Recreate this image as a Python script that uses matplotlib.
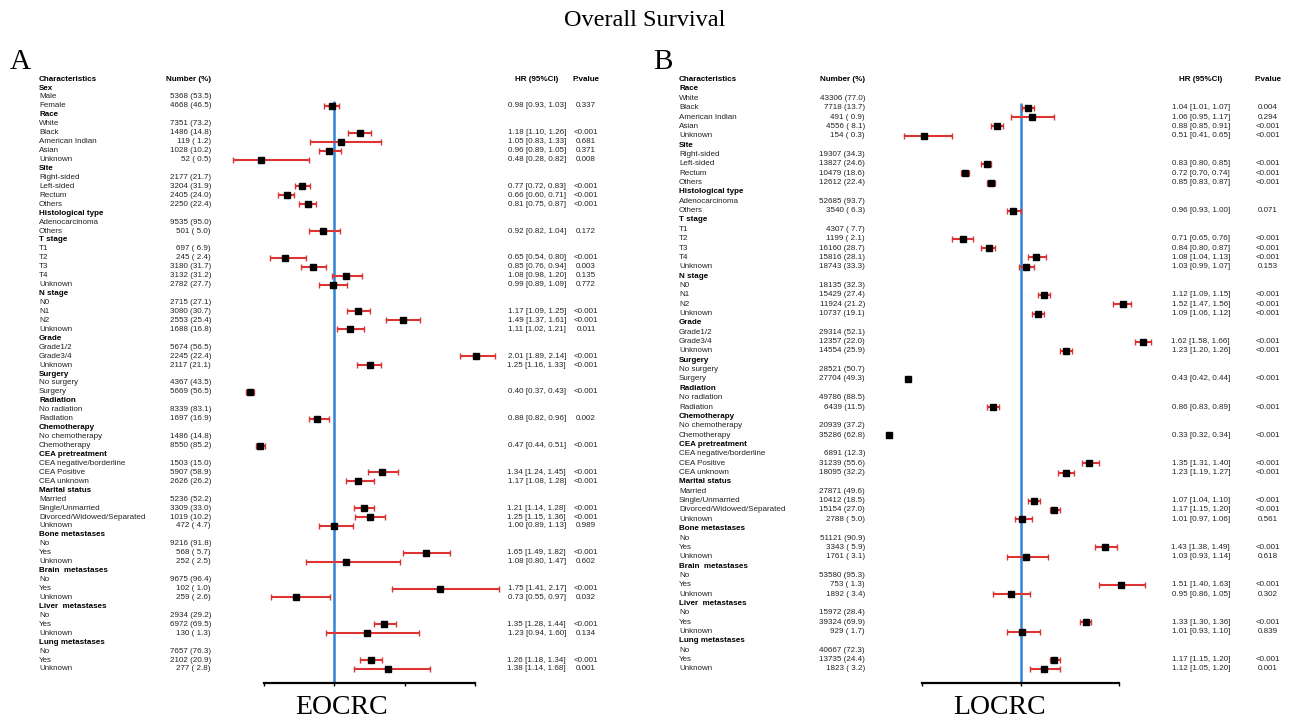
import matplotlib
matplotlib.use("Agg")
import matplotlib.pyplot as plt
from matplotlib.transforms import blended_transform_factory

plt.rcParams['font.family'] = ['Liberation Sans', 'DejaVu Sans']

# ── Panel A : EOCRC ─────────────────────────────────────────────────────────
A_LABELS = [
    "Sex", "Male", "Female",
    "Race", "White", "Black", "American Indian", "Asian", "Unknown",
    "Site", "Right-sided", "Left-sided", "Rectum", "Others",
    "Histological type", "Adenocarcinoma", "Others",
    "T stage", "T1", "T2", "T3", "T4", "Unknown",
    "N stage", "N0", "N1", "N2", "Unknown",
    "Grade", "Grade1/2", "Grade3/4", "Unknown",
    "Surgery", "No surgery", "Surgery",
    "Radiation", "No radiation", "Radiation",
    "Chemotherapy", "No chemotherapy", "Chemotherapy",
    "CEA pretreatment", "CEA negative/borderline", "CEA Positive", "CEA unknown",
    "Marital status", "Married", "Single/Unmarried", "Divorced/Widowed/Separated", "Unknown",
    "Bone metastases", "No", "Yes", "Unknown",
    "Brain  metastases", "No", "Yes", "Unknown",
    "Liver  metastases", "No", "Yes", "Unknown",
    "Lung metastases", "No", "Yes", "Unknown",
]
A_NUMBERS = [
    "", "5368 (53.5)", "4668 (46.5)",
    "", "7351 (73.2)", "1486 (14.8)", "119 ( 1.2)", "1028 (10.2)", "52 ( 0.5)",
    "", "2177 (21.7)", "3204 (31.9)", "2405 (24.0)", "2250 (22.4)",
    "", "9535 (95.0)", "501 ( 5.0)",
    "", "697 ( 6.9)", "245 ( 2.4)", "3180 (31.7)", "3132 (31.2)", "2782 (27.7)",
    "", "2715 (27.1)", "3080 (30.7)", "2553 (25.4)", "1688 (16.8)",
    "", "5674 (56.5)", "2245 (22.4)", "2117 (21.1)",
    "", "4367 (43.5)", "5669 (56.5)",
    "", "8339 (83.1)", "1697 (16.9)",
    "", "1486 (14.8)", "8550 (85.2)",
    "", "1503 (15.0)", "5907 (58.9)", "2626 (26.2)",
    "", "5236 (52.2)", "3309 (33.0)", "1019 (10.2)", "472 ( 4.7)",
    "", "9216 (91.8)", "568 ( 5.7)", "252 ( 2.5)",
    "", "9675 (96.4)", "102 ( 1.0)", "259 ( 2.6)",
    "", "2934 (29.2)", "6972 (69.5)", "130 ( 1.3)",
    "", "7657 (76.3)", "2102 (20.9)", "277 ( 2.8)",
]
A_HR = [
    None, None, 0.98,
    None, None, 1.18, 1.05, 0.96, 0.48,
    None, None, 0.77, 0.66, 0.81,
    None, None, 0.92,
    None, None, 0.65, 0.85, 1.08, 0.99,
    None, None, 1.17, 1.49, 1.11,
    None, None, 2.01, 1.25,
    None, None, 0.40,
    None, None, 0.88,
    None, None, 0.47,
    None, None, 1.34, 1.17,
    None, None, 1.21, 1.25, 1.00,
    None, None, 1.65, 1.08,
    None, None, 1.75, 0.73,
    None, None, 1.35, 1.23,
    None, None, 1.26, 1.38,
]
A_LO = [
    None, None, 0.93,
    None, None, 1.10, 0.83, 0.89, 0.28,
    None, None, 0.72, 0.60, 0.75,
    None, None, 0.82,
    None, None, 0.54, 0.76, 0.98, 0.89,
    None, None, 1.09, 1.37, 1.02,
    None, None, 1.89, 1.16,
    None, None, 0.37,
    None, None, 0.82,
    None, None, 0.44,
    None, None, 1.24, 1.08,
    None, None, 1.14, 1.15, 0.89,
    None, None, 1.49, 0.80,
    None, None, 1.41, 0.55,
    None, None, 1.28, 0.94,
    None, None, 1.18, 1.14,
]
A_HI = [
    None, None, 1.03,
    None, None, 1.26, 1.33, 1.05, 0.82,
    None, None, 0.83, 0.71, 0.87,
    None, None, 1.04,
    None, None, 0.80, 0.94, 1.20, 1.09,
    None, None, 1.25, 1.61, 1.21,
    None, None, 2.14, 1.33,
    None, None, 0.43,
    None, None, 0.96,
    None, None, 0.51,
    None, None, 1.45, 1.28,
    None, None, 1.28, 1.36, 1.13,
    None, None, 1.82, 1.47,
    None, None, 2.17, 0.97,
    None, None, 1.44, 1.60,
    None, None, 1.34, 1.68,
]
A_P = [
    "", "", "0.337",
    "", "", "<0.001", "0.681", "0.371", "0.008",
    "", "", "<0.001", "<0.001", "<0.001",
    "", "", "0.172",
    "", "", "<0.001", "0.003", "0.135", "0.772",
    "", "", "<0.001", "<0.001", "0.011",
    "", "", "<0.001", "<0.001",
    "", "", "<0.001",
    "", "", "0.002",
    "", "", "<0.001",
    "", "", "<0.001", "<0.001",
    "", "", "<0.001", "<0.001", "0.989",
    "", "", "<0.001", "0.602",
    "", "", "<0.001", "0.032",
    "", "", "<0.001", "0.134",
    "", "", "<0.001", "0.001",
]

# ── Panel B : LOCRC ─────────────────────────────────────────────────────────
B_LABELS = [
    "Race", "White", "Black", "American Indian", "Asian", "Unknown",
    "Site", "Right-sided", "Left-sided", "Rectum", "Others",
    "Histological type", "Adenocarcinoma", "Others",
    "T stage", "T1", "T2", "T3", "T4", "Unknown",
    "N stage", "N0", "N1", "N2", "Unknown",
    "Grade", "Grade1/2", "Grade3/4", "Unknown",
    "Surgery", "No surgery", "Surgery",
    "Radiation", "No radiation", "Radiation",
    "Chemotherapy", "No chemotherapy", "Chemotherapy",
    "CEA pretreatment", "CEA negative/borderline", "CEA Positive", "CEA unknown",
    "Marital status", "Married", "Single/Unmarried", "Divorced/Widowed/Separated", "Unknown",
    "Bone metastases", "No", "Yes", "Unknown",
    "Brain  metastases", "No", "Yes", "Unknown",
    "Liver  metastases", "No", "Yes", "Unknown",
    "Lung metastases", "No", "Yes", "Unknown",
]
B_NUMBERS = [
    "", "43306 (77.0)", "7718 (13.7)", "491 ( 0.9)", "4556 ( 8.1)", "154 ( 0.3)",
    "", "19307 (34.3)", "13827 (24.6)", "10479 (18.6)", "12612 (22.4)",
    "", "52685 (93.7)", "3540 ( 6.3)",
    "", "4307 ( 7.7)", "1199 ( 2.1)", "16160 (28.7)", "15816 (28.1)", "18743 (33.3)",
    "", "18135 (32.3)", "15429 (27.4)", "11924 (21.2)", "10737 (19.1)",
    "", "29314 (52.1)", "12357 (22.0)", "14554 (25.9)",
    "", "28521 (50.7)", "27704 (49.3)",
    "", "49786 (88.5)", "6439 (11.5)",
    "", "20939 (37.2)", "35286 (62.8)",
    "", "6891 (12.3)", "31239 (55.6)", "18095 (32.2)",
    "", "27871 (49.6)", "10412 (18.5)", "15154 (27.0)", "2788 ( 5.0)",
    "", "51121 (90.9)", "3343 ( 5.9)", "1761 ( 3.1)",
    "", "53580 (95.3)", "753 ( 1.3)", "1892 ( 3.4)",
    "", "15972 (28.4)", "39324 (69.9)", "929 ( 1.7)",
    "", "40667 (72.3)", "13735 (24.4)", "1823 ( 3.2)",
]
B_HR = [
    None, None, 1.04, 1.06, 0.88, 0.51,
    None, None, 0.83, 0.72, 0.85,
    None, None, 0.96,
    None, None, 0.71, 0.84, 1.08, 1.03,
    None, None, 1.12, 1.52, 1.09,
    None, None, 1.62, 1.23,
    None, None, 0.43,
    None, None, 0.86,
    None, None, 0.33,
    None, None, 1.35, 1.23,
    None, None, 1.07, 1.17, 1.01,
    None, None, 1.43, 1.03,
    None, None, 1.51, 0.95,
    None, None, 1.33, 1.01,
    None, None, 1.17, 1.12,
]
B_LO = [
    None, None, 1.01, 0.95, 0.85, 0.41,
    None, None, 0.80, 0.70, 0.83,
    None, None, 0.93,
    None, None, 0.65, 0.80, 1.04, 0.99,
    None, None, 1.09, 1.47, 1.06,
    None, None, 1.58, 1.20,
    None, None, 0.42,
    None, None, 0.83,
    None, None, 0.32,
    None, None, 1.31, 1.19,
    None, None, 1.04, 1.15, 0.97,
    None, None, 1.38, 0.93,
    None, None, 1.40, 0.86,
    None, None, 1.30, 0.93,
    None, None, 1.15, 1.05,
]
B_HI = [
    None, None, 1.07, 1.17, 0.91, 0.65,
    None, None, 0.85, 0.74, 0.87,
    None, None, 1.00,
    None, None, 0.76, 0.87, 1.13, 1.07,
    None, None, 1.15, 1.56, 1.12,
    None, None, 1.66, 1.26,
    None, None, 0.44,
    None, None, 0.89,
    None, None, 0.34,
    None, None, 1.40, 1.27,
    None, None, 1.10, 1.20, 1.06,
    None, None, 1.49, 1.14,
    None, None, 1.63, 1.05,
    None, None, 1.36, 1.10,
    None, None, 1.20, 1.20,
]
B_P = [
    "", "", "0.004", "0.294", "<0.001", "<0.001",
    "", "", "<0.001", "<0.001", "<0.001",
    "", "", "0.071",
    "", "", "<0.001", "<0.001", "<0.001", "0.153",
    "", "", "<0.001", "<0.001", "<0.001",
    "", "", "<0.001", "<0.001",
    "", "", "<0.001",
    "", "", "<0.001",
    "", "", "<0.001",
    "", "", "<0.001", "<0.001",
    "", "", "<0.001", "<0.001", "0.561",
    "", "", "<0.001", "0.618",
    "", "", "<0.001", "0.302",
    "", "", "<0.001", "0.839",
    "", "", "<0.001", "0.001",
]

W, H = 1290, 723
RED = "#dd3333"
BLUE = "#2f84d6"
FS = 5.8


def fx(px):
    return px / W


def draw_panel(fig, labels, numbers, hr, lo, hi, pvals,
               row_top, row_bot, axis_y, ax_left, ax_right, xmax, ticks,
               col_label, col_num, col_hr, col_p):
    n = len(labels)
    step = (row_bot - row_top) / (n - 1)
    y_bottom = (axis_y - row_top) / step          # axis line in row units
    top_px = row_top - step                       # header row
    ax = fig.add_axes([fx(ax_left), 1 - axis_y / H,
                       fx(ax_right - ax_left), (axis_y - top_px) / H])
    ax.set_xlim(0.5, xmax)
    ax.set_ylim(y_bottom, -1)
    for s in ("left", "right", "top"):
        ax.spines[s].set_visible(False)
    ax.spines["bottom"].set_linewidth(1.6)
    ax.set_xticks(ticks)
    ax.set_xticklabels([])
    ax.tick_params(axis="x", length=2, width=1)
    ax.set_yticks([])
    ax.patch.set_visible(False)

    first = min(i for i, v in enumerate(hr) if v is not None)
    ax.vlines(1.0, first - 0.5, y_bottom, color=BLUE, lw=1.8, zorder=1)

    for i, v in enumerate(hr):
        if v is None:
            continue
        ax.errorbar(v, i, xerr=[[v - lo[i]], [hi[i] - v]], fmt="s",
                    color="black", ms=4.8, ecolor=RED, elinewidth=1.5,
                    capsize=2, capthick=1.0, clip_on=False, zorder=3)

    tr = blended_transform_factory(fig.transFigure, ax.transData)
    hdr = dict(fontsize=FS, fontweight="bold", va="center", transform=tr)
    ax.text(fx(col_label), -1, "Characteristics", ha="left", **hdr)
    ax.text(fx(col_num), -1, "Number (%)", ha="right", **hdr)
    ax.text(fx(col_hr - 29), -1, "HR (95%CI)", ha="center", **hdr)
    ax.text(fx(col_p), -1, "P.value", ha="center", **hdr)

    for i, lab in enumerate(labels):
        bold = numbers[i] == ""
        ax.text(fx(col_label), i, lab, ha="left", va="center", fontsize=FS,
                fontweight="bold" if bold else "normal",
                color="black" if bold else "#222222", transform=tr)
        if numbers[i]:
            ax.text(fx(col_num), i, numbers[i], ha="right", va="center",
                    fontsize=FS, color="#222222", transform=tr)
        if hr[i] is not None:
            ax.text(fx(col_hr), i, f"{hr[i]:.2f} [{lo[i]:.2f}, {hi[i]:.2f}]",
                    ha="right", va="center", fontsize=FS, color="#222222",
                    transform=tr)
            ax.text(fx(col_p), i, pvals[i], ha="center", va="center",
                    fontsize=FS, color="#222222", transform=tr)
    return ax


fig = plt.figure(figsize=(12.9, 7.23), dpi=100)

draw_panel(fig, A_LABELS, A_NUMBERS, A_HR, A_LO, A_HI, A_P,
           row_top=88, row_bot=669, axis_y=683, ax_left=264, ax_right=475,
           xmax=2.0, ticks=[0.5, 1.0, 1.5, 2.0],
           col_label=39, col_num=211, col_hr=566, col_p=586)
draw_panel(fig, B_LABELS, B_NUMBERS, B_HR, B_LO, B_HI, B_P,
           row_top=89, row_bot=669, axis_y=683, ax_left=922, ax_right=1119,
           xmax=1.5, ticks=[0.5, 1.0, 1.5],
           col_label=679, col_num=865, col_hr=1230, col_p=1268)

serif = ['Liberation Serif', 'DejaVu Serif']
fig.text(0.5, 1 - 20 / H, "Overall Survival", ha="center", va="center",
         fontsize=17.5, family=serif)
fig.text(fx(20), 1 - 62 / H, "A", ha="center", va="center", fontsize=21, family=serif)
fig.text(fx(663), 1 - 62 / H, "B", ha="center", va="center", fontsize=21, family=serif)
fig.text(fx(342), 1 - 708 / H, "EOCRC", ha="center", va="center", fontsize=20, family=serif)
fig.text(fx(1000), 1 - 708 / H, "LOCRC", ha="center", va="center", fontsize=20, family=serif)

fig.savefig("out.png", dpi=100)
